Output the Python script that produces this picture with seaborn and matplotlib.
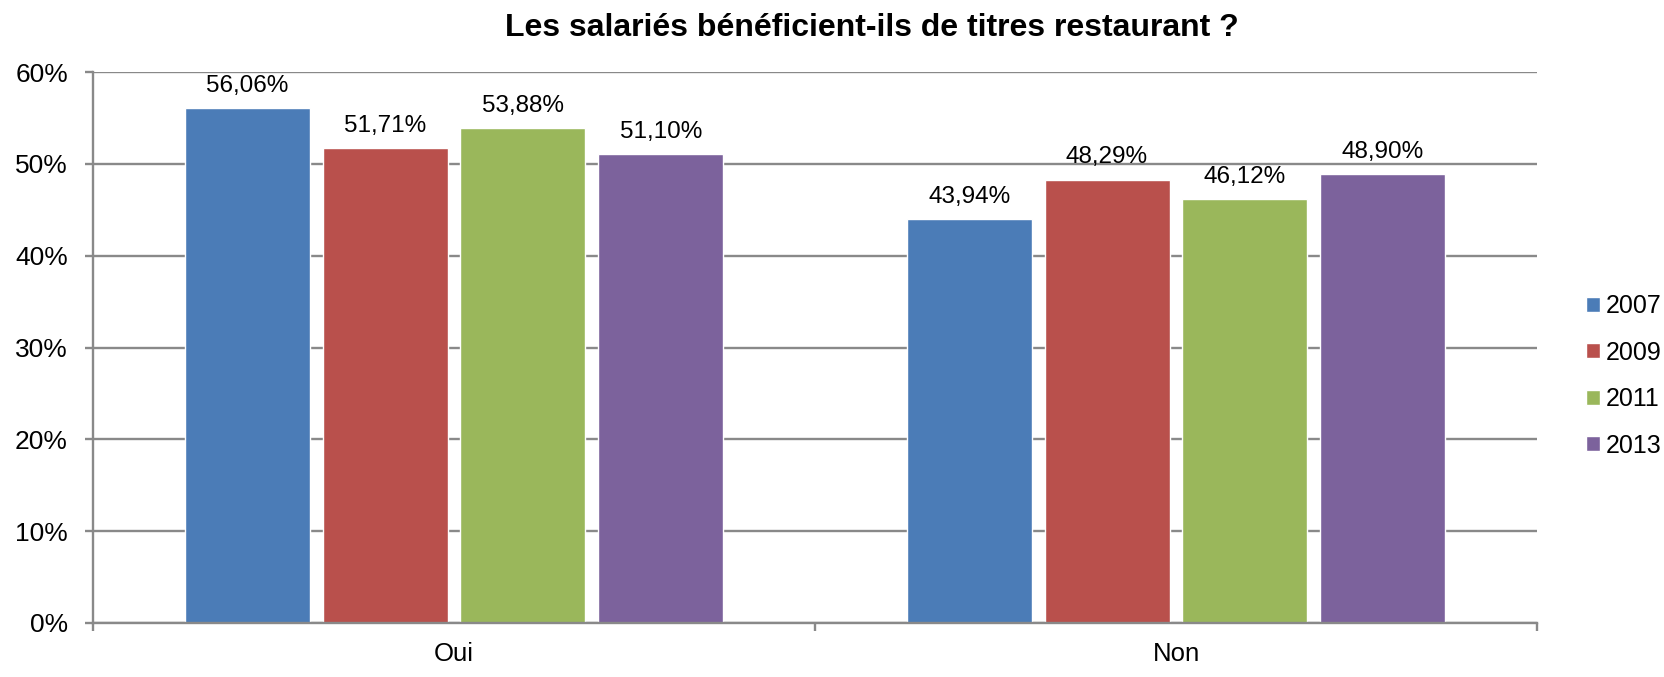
import matplotlib
matplotlib.use("Agg")
import matplotlib.pyplot as plt
import pandas as pd
import seaborn as sns
from matplotlib.ticker import FixedLocator, FuncFormatter

# Survey answers and yearly shares (%)
categories = ["Oui", "Non"]
years = ["2007", "2009", "2011", "2013"]
share_2007 = [56.06, 43.94]
share_2009 = [51.71, 48.29]
share_2011 = [53.88, 46.12]
share_2013 = [51.10, 48.90]
title = "Les salariés bénéficient-ils de titres restaurant ?"

palette = ["#4B7CB7", "#B9504C", "#9AB75B", "#7C629C"]

rows = []
for year, values in zip(years, [share_2007, share_2009, share_2011, share_2013]):
    for cat, v in zip(categories, values):
        rows.append({"Réponse": cat, "Année": year, "Part": v})
df = pd.DataFrame(rows)

sns.set_theme(style="white")
plt.rcParams["font.family"] = ["Liberation Sans", "DejaVu Sans"]
plt.rcParams["text.color"] = "black"
plt.rcParams["xtick.labelcolor"] = "black"
plt.rcParams["ytick.labelcolor"] = "black"

W, H = 1664, 677
fig = plt.figure(figsize=(W / 100, H / 100), dpi=100)
left, right, top, bottom = 93, 1537, 72, 623
ax = fig.add_axes([left / W, 1 - bottom / H, (right - left) / W, (bottom - top) / H])

sns.barplot(
    data=df, x="Réponse", y="Part", hue="Année", order=categories,
    hue_order=years, palette=palette, saturation=1, errorbar=None,
    width=0.764, gap=0.094, ax=ax, legend=True,
)

# Value labels with French decimal comma
for container in ax.containers:
    labels = [f"{b.get_height():.2f}%".replace(".", ",") for b in container]
    ax.bar_label(container, labels=labels, padding=8, fontsize=17.5,
                 color="black")

grid_col = "#898989"
ax.set_xlim(-0.5, 1.5)
ax.set_ylim(0, 60)
ax.yaxis.set_major_locator(FixedLocator(range(0, 61, 10)))
ax.yaxis.set_major_formatter(FuncFormatter(lambda v, _: f"{v:.0f}%"))
ax.grid(axis="y", color=grid_col, linewidth=1.7)
ax.set_axisbelow(True)

# Category boundaries as major ticks, labels on minor ticks at centers
ax.xaxis.set_major_locator(FixedLocator([-0.5, 0.5, 1.5]))
ax.xaxis.set_major_formatter(FuncFormatter(lambda v, _: ""))
ax.xaxis.set_minor_locator(FixedLocator([0, 1]))
ax.set_xticklabels(categories, minor=True)
ax.tick_params(axis="x", which="major", direction="out", length=6,
               width=1.7, color=grid_col, bottom=True)
ax.tick_params(axis="x", which="minor", length=0, pad=14, labelsize=18.5,
               bottom=True, labelcolor="black")
ax.tick_params(axis="y", direction="out", length=6, width=1.7,
               color=grid_col, pad=12, labelsize=19, left=True,
               labelcolor="black")

for side in ("top", "right"):
    ax.spines[side].set_visible(False)
for side in ("left", "bottom"):
    ax.spines[side].set_color(grid_col)
    ax.spines[side].set_linewidth(1.7)

ax.set_xlabel("")
ax.set_ylabel("")

handles, labels = ax.get_legend_handles_labels()
ax.legend(
    handles, labels, loc="center left", frameon=False, fontsize=18,
    bbox_to_anchor=(1576 / W, 1 - 376 / H), bbox_transform=fig.transFigure,
    handlelength=0.55, handleheight=0.55, handletextpad=0.25, labelspacing=0.9,
    borderaxespad=0, labelcolor="black",
)

fig.text(872 / W, 1 - 28 / H, title, ha="center", va="center",
         fontsize=23, fontweight="bold", color="black")

fig.savefig("out.png", dpi=100)
